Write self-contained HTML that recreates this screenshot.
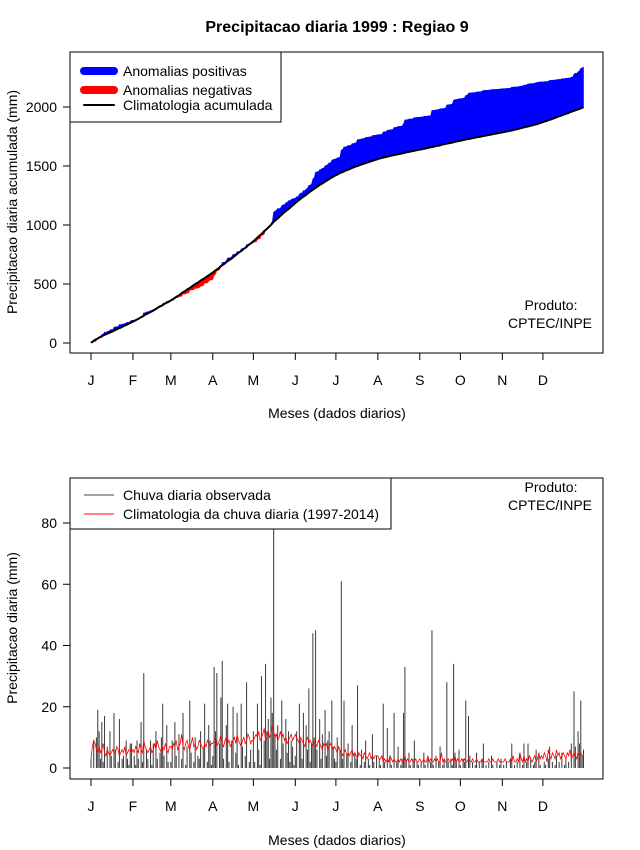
<!DOCTYPE html>
<html><head><meta charset="utf-8"><style>
body{margin:0;background:#fff}
svg{display:block;font-family:"Liberation Sans",sans-serif}
</style></head><body>
<svg id="c" width="640" height="850" xmlns="http://www.w3.org/2000/svg">
<text x="337" y="32" text-anchor="middle" font-size="16" font-weight="bold">Precipitacao diaria 1999 : Regiao 9</text>
<g id="topPanel"></g>
<g id="botPanel"></g>
</svg>
<script>
const monthLabels=["J","F","M","A","M","J","J","A","S","O","N","D"];
const monthStartDays=[1,32,60,91,121,152,182,213,244,274,305,335];
const topTicks=[0,500,1000,1500,2000];
const botTicks=[0,20,40,60,80];
const observed=[
3,0,9,0,10,19,12,3,15,2,17,0,7,0,12,4,0,18,6,0,2,16,0,3,4,0,9,3,1,8,8,
0,4,1,9,3,0,15,2,31,0,6,3,0,9,1,8,0,12,3,0,5,10,21,4,0,14,2,0,
2,9,0,15,4,0,11,0,3,18,0,1,7,0,22,5,0,2,10,0,4,3,12,0,6,21,0,2,14,9,1,
4,33,12,31,0,8,23,35,3,0,14,21,2,0,9,20,0,5,18,1,0,21,7,0,4,28,0,2,6,0,
12,2,0,21,6,1,30,0,9,34,12,16,3,23,18,78,11,6,14,0,3,22,8,0,16,5,12,2,9,7,1,
4,12,0,21,9,3,18,0,14,6,26,2,8,44,10,45,6,0,16,3,11,0,19,4,9,12,0,22,7,3,
2,10,0,6,61,3,22,0,4,8,0,2,14,0,5,3,27,0,1,6,0,2,9,0,3,1,0,11,2,0,4,
0,3,1,0,21,2,0,13,0,4,1,0,18,0,2,7,0,1,3,18,33,2,0,5,1,0,3,9,0,2,1,
0,2,0,5,1,0,3,0,2,45,1,0,4,0,2,7,0,1,3,0,28,2,0,3,1,34,5,2,0,6,
1,0,3,2,22,0,17,4,0,2,0,1,5,0,2,0,3,8,0,1,0,2,0,4,1,0,0,2,0,1,3,
0,1,0,2,0,0,3,8,0,1,0,2,0,5,0,1,8,0,2,8,0,3,0,1,2,6,0,4,1,0,
0,2,1,0,3,7,0,2,0,1,4,0,2,0,5,0,1,3,0,2,0,8,0,25,7,0,12,8,22,4,6];
const climatology=[
3,7,9,8,6,5,7,5,6,8,5,4,6,5,4,5,6,5,5,7,6,4,5,6,5,7,4,5,6,6,5,
6,5,7,6,5,8,6,5,9,7,6,5,6,7,5,6,8,6,9,7,6,5,7,6,8,6,5,7,
7,6,8,7,9,6,7,8,11,7,6,8,9,7,6,8,10,7,8,6,7,9,8,7,6,8,7,9,8,7,8,
8,9,10,7,8,9,11,8,7,9,10,8,9,7,8,9,10,8,11,9,8,7,9,10,8,9,11,10,8,9,
9,10,11,10,12,9,10,11,13,9,10,12,10,11,14,12,10,11,9,10,12,10,11,9,10,8,9,10,11,9,10,
11,10,9,8,10,9,8,7,9,10,8,9,8,7,9,8,7,9,8,7,6,8,7,8,6,7,8,7,6,7,
6,5,7,6,5,4,5,6,4,5,4,5,6,4,5,4,3,5,4,4,3,5,4,3,4,5,3,4,3,4,4,
4,3,3,4,2,3,2,3,2,4,3,2,3,2,2,3,2,3,2,2,4,2,3,2,2,3,2,2,3,2,2,
3,2,2,3,2,2,4,2,3,2,2,3,2,3,2,2,5,2,3,2,2,3,2,2,3,2,4,2,3,2,
2,3,2,3,2,2,3,2,2,3,2,2,3,2,2,2,3,2,2,2,2,3,2,2,3,2,2,2,3,2,2,
2,2,3,2,2,2,3,2,4,2,2,3,2,5,3,2,4,2,3,2,4,3,2,3,4,2,3,5,3,4,
3,5,4,2,6,4,3,5,4,3,6,4,5,3,4,5,4,3,5,4,6,3,4,5,4,3,5,4,5,4,4];

const NS="http://www.w3.org/2000/svg";
function mk(parent,tag,attrs,text){const e=document.createElementNS(NS,tag);for(const k in attrs)e.setAttribute(k,attrs[k]);if(text!==undefined)e.textContent=text;parent.appendChild(e);return e;}
const xDay=d=>91+(d-1)*1.353;
const yTop=v=>343-v*0.118;
const yBot=v=>768-v*3.0625;
const n=Math.min(observed.length,climatology.length);
const cumObs=[],cumClim=[];let sa=0,sb=0;
for(let i=0;i<n;i++){sa+=observed[i];sb+=climatology[i];cumObs.push(sa);cumClim.push(sb);}

function axes(g,boxTop,ticks,yf,ytitle,xlabY){
  const box=mk(g,'rect',{x:70,y:boxTop,width:533,height:301,fill:'none',stroke:'#000','stroke-width':1});
  
  
  const bottom=boxTop+301;
  ticks.forEach(t=>{
    const y=yf(t);
    mk(g,'line',{x1:63,x2:70,y1:y,y2:y,stroke:'#000'});
    const tl=mk(g,'text',{x:57,y:y+5,'text-anchor':'end','font-size':14},t);
    
    
  });
  monthStartDays.forEach((d,i)=>{
    const x=xDay(d);
    mk(g,'line',{x1:x,x2:x,y1:bottom,y2:bottom+7,stroke:'#000'});
    const tl=mk(g,'text',{x:x,y:bottom+32,'text-anchor':'middle','font-size':14},monthLabels[i]);
    
    
  });
  const xt=mk(g,'text',{x:337,y:xlabY,'text-anchor':'middle','font-size':14},'Meses (dados diarios)');
  
  
  const cy=boxTop+150;
  const yt=mk(g,'text',{x:17,y:cy,'text-anchor':'middle','font-size':14,transform:`rotate(-90 17 ${cy})`},ytitle);
  
  
}

// TOP PANEL
const topG=document.getElementById('topPanel');
for(let i=0;i<n-1;i++){
  const x1=xDay(i+1),x2=xDay(i+2);
  const diff=(cumObs[i]-cumClim[i])+(cumObs[i+1]-cumClim[i+1]);
  const col=diff>=0?'#0000ff':'#ff0000';
  const q=mk(topG,'polygon',{points:`${x1},${yTop(cumClim[i])} ${x2},${yTop(cumClim[i+1])} ${x2},${yTop(cumObs[i+1])} ${x1},${yTop(cumObs[i])}`,fill:col,stroke:col,'stroke-width':0.6});
  
  
}
const climLine=mk(topG,'polyline',{points:cumClim.map((v,i)=>`${xDay(i+1)},${yTop(v)}`).join(' '),fill:'none',stroke:'#000','stroke-width':2});


axes(topG,52,topTicks,yTop,'Precipitacao diaria acumulada (mm)',418);
const lg1=mk(topG,'g',{});


mk(lg1,'rect',{x:70,y:52,width:211,height:70,fill:'#fff',stroke:'#000'});
[['#0000ff',8,'Anomalias positivas',71],['#ff0000',8,'Anomalias negativas',90],['#000',2,'Climatologia acumulada',105]].forEach(e=>{
  const it=mk(lg1,'g',{});
  
  
  mk(it,'line',{x1:84,x2:114,y1:e[3],y2:e[3],stroke:e[0],'stroke-width':e[1],'stroke-linecap':'round'});
  mk(it,'text',{x:123,y:e[3]+5,'font-size':14},e[2]);
});
const p1=mk(topG,'text',{x:551,y:310,'text-anchor':'middle','font-size':14},'Produto:');


const p2=mk(topG,'text',{x:550,y:328,'text-anchor':'middle','font-size':14},'CPTEC/INPE');



// BOTTOM PANEL
const botG=document.getElementById('botPanel');
for(let i=0;i<n;i++){
  const x=xDay(i+1);
  const bar=mk(botG,'line',{x1:x,x2:x,y1:yBot(0),y2:yBot(observed[i]),stroke:'#3a3a3a','stroke-width':1});
  
  
}
const climDaily=mk(botG,'polyline',{points:climatology.slice(0,n).map((v,i)=>`${xDay(i+1)},${yBot(v)}`).join(' '),fill:'none',stroke:'#ff0000','stroke-width':0.8});


axes(botG,478,botTicks,yBot,'Precipitacao diaria (mm)',845);
const lg2=mk(botG,'g',{});


mk(lg2,'rect',{x:70,y:478,width:321,height:51,fill:'#fff',stroke:'#000'});
[['#444','Chuva diaria observada',495],['#ff0000','Climatologia da chuva diaria (1997-2014)',514]].forEach(e=>{
  const it=mk(lg2,'g',{});
  
  
  mk(it,'line',{x1:84,x2:114,y1:e[2],y2:e[2],stroke:e[0],'stroke-width':1});
  mk(it,'text',{x:123,y:e[2]+5,'font-size':14},e[1]);
});
const p3=mk(botG,'text',{x:551,y:492,'text-anchor':'middle','font-size':14},'Produto:');


const p4=mk(botG,'text',{x:550,y:510,'text-anchor':'middle','font-size':14},'CPTEC/INPE');


</script>
</body></html>
